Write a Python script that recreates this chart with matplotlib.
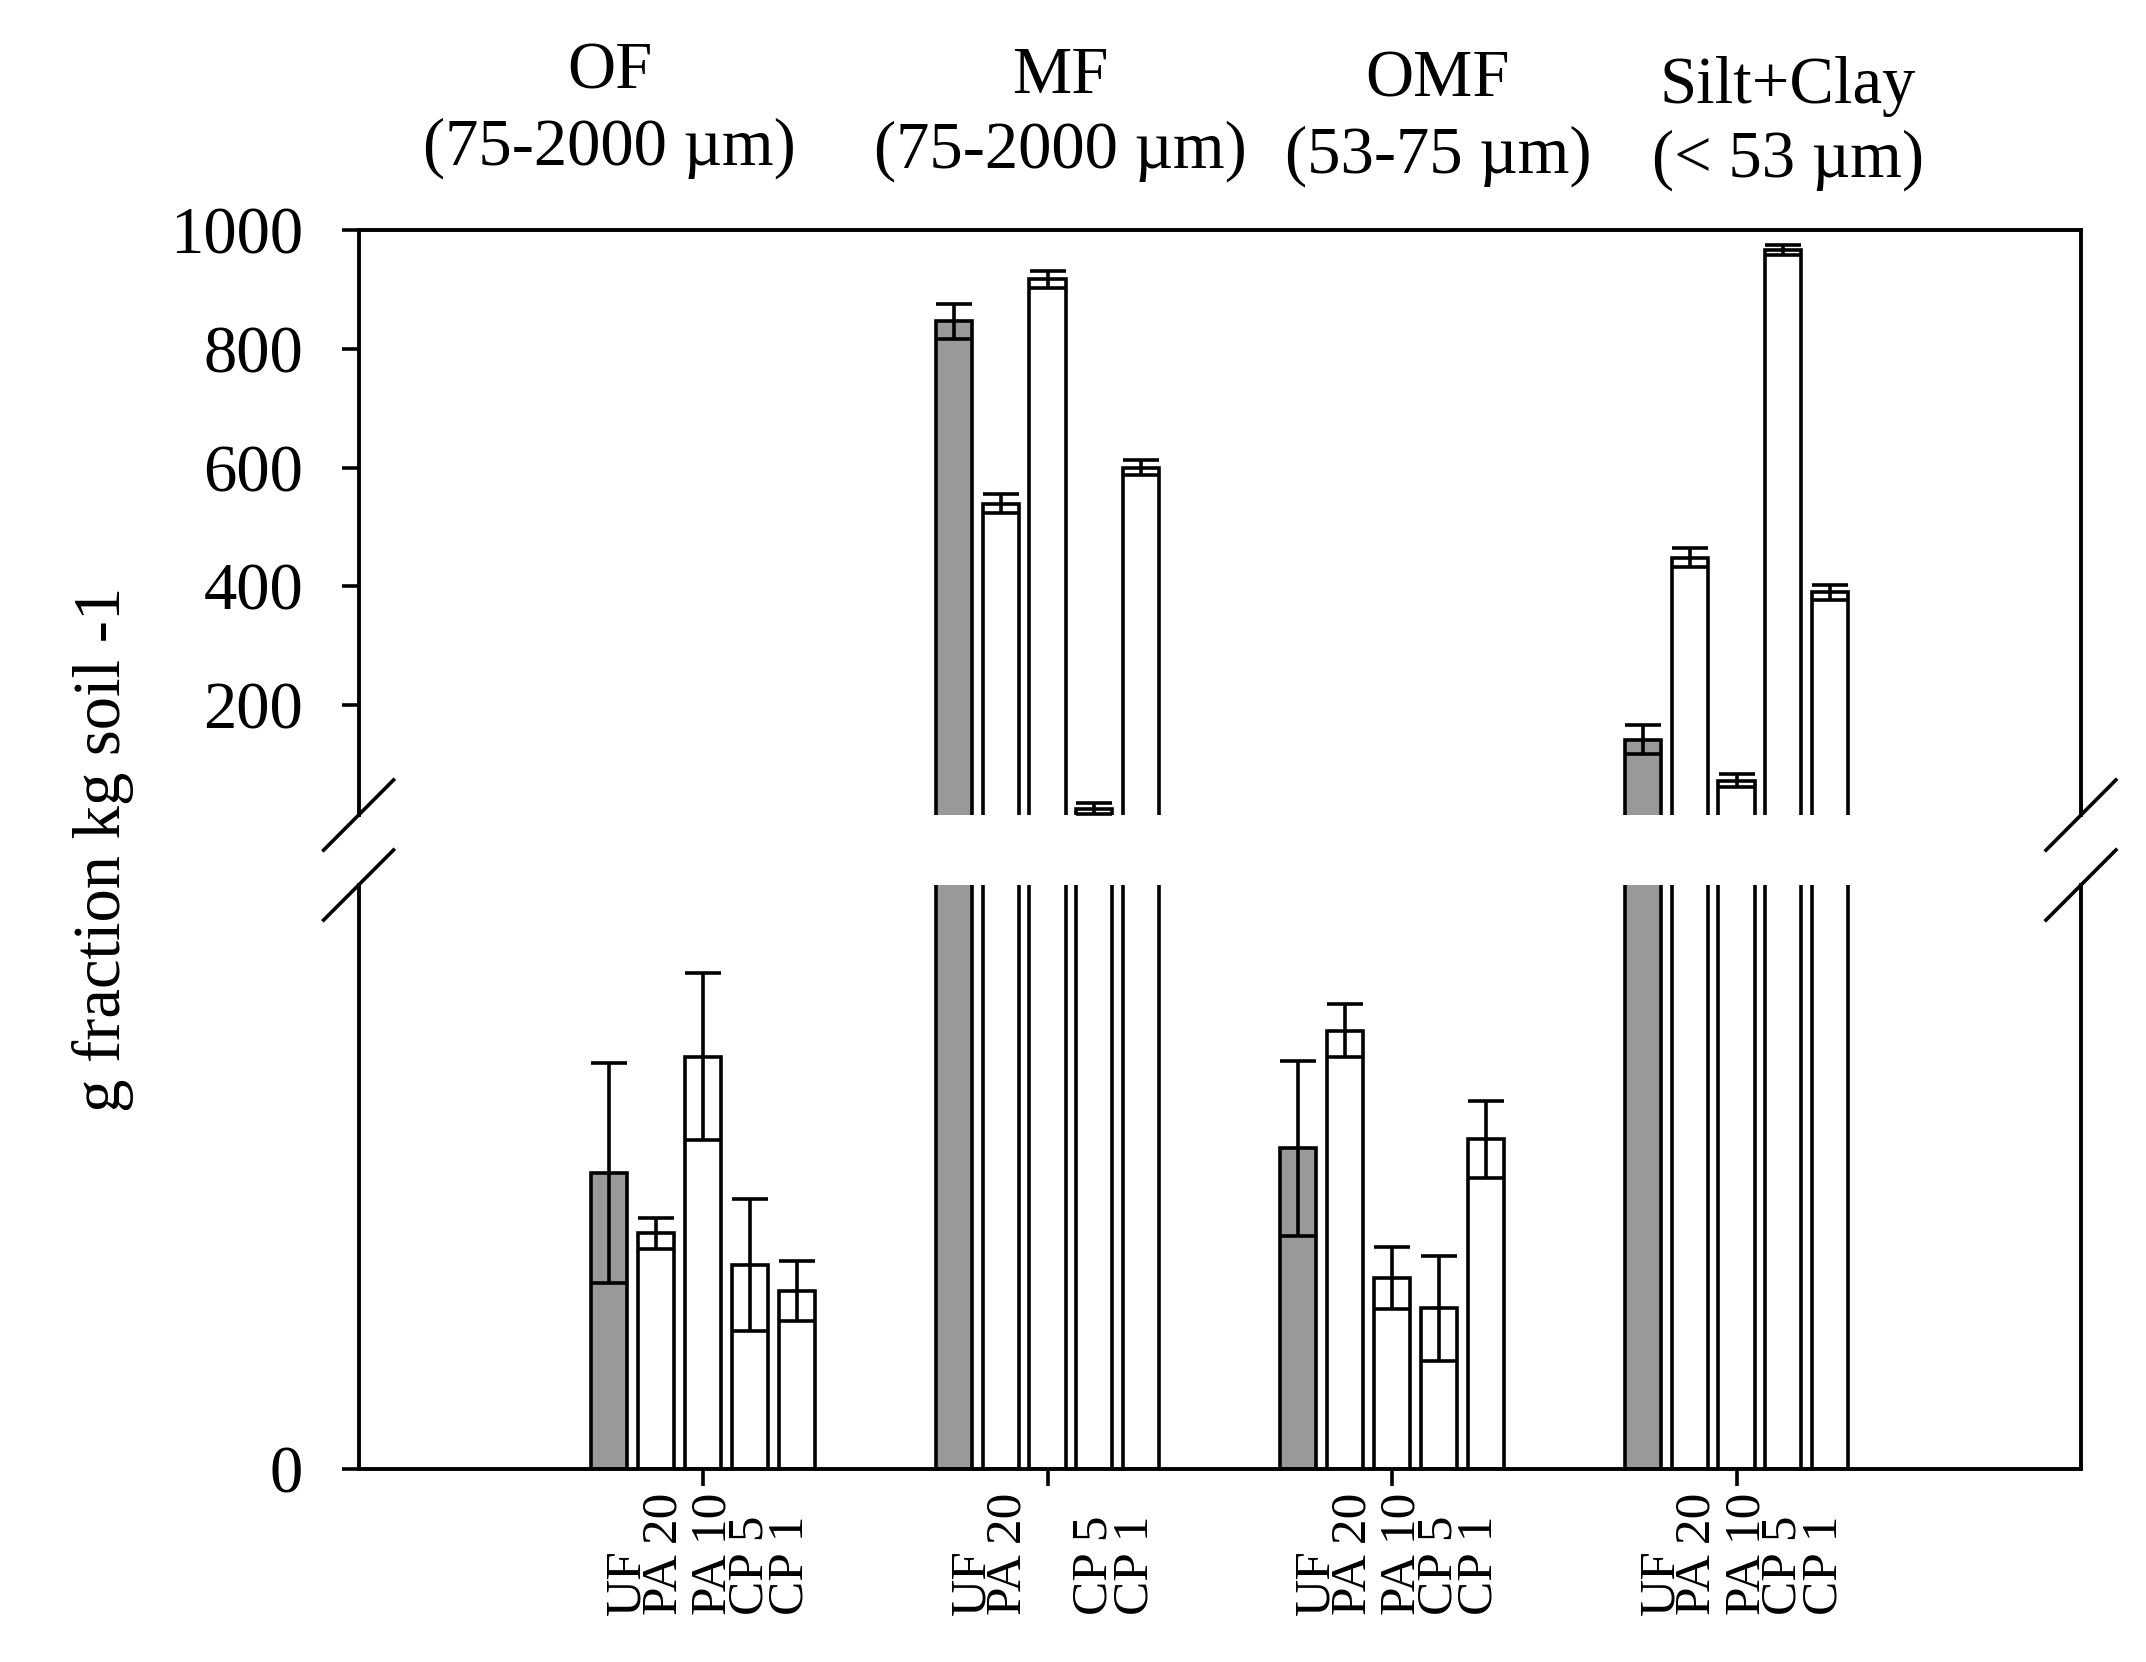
import numpy as np
import matplotlib.pyplot as plt
from matplotlib import transforms

plt.rcParams['font.family'] = ['Liberation Serif', 'DejaVu Serif']

fractions = ['OF', 'MF', 'OMF', 'Silt+Clay']
size_ranges = ['(75-2000 µm)', '(75-2000 µm)', '(53-75 µm)', '(< 53 µm)']
treatments = ['UF', 'PA 20', 'PA 10', 'CP 5', 'CP 1']

# one row per fraction, one column per treatment
# (OF and OMF only show in the lower, unlabelled part of the broken axis)
means = np.array([
    [10.13, 8.07, 14.12, 6.99, 6.11],
    [846, 539, 917, 26, 600],
    [10.98, 15.01, 6.55, 5.50, 11.29],
    [142, 448, 73, 966, 390],
])
errors = np.array([
    [3.77, 0.52, 2.86, 2.25, 1.03],
    [29, 16, 14, 9, 13],
    [2.99, 0.91, 1.06, 1.79, 1.32],
    [25, 16, 11, 8, 13],
])
# the MF group has no "PA 10" label in the original
group_labels = [treatments,
                ['UF', 'PA 20', '', 'CP 5', 'CP 1'],
                treatments,
                treatments]

colors = ['#999999', 'white', 'white', 'white', 'white']
bar_step = 0.136
bar_w = 0.105
label_shift = [-0.22, -0.114, 0.03, 0.137, 0.254]

hi_lim = (15, 1000)
lo_lim = (0, 20)

fig = plt.figure(figsize=(21.46, 16.62), dpi=100)
ax_hi = fig.add_axes([0.1671, 0.5096, 0.8026, 0.352])
ax_lo = fig.add_axes([0.1671, 0.1161, 0.8026, 0.3514])

x = np.arange(len(fractions))
# (axes, limits, smallest value drawn in that part)
parts = ((ax_hi, hi_lim, lo_lim[1]), (ax_lo, lo_lim, 0))
for ax, (lo, hi), floor in parts:
    for i, t in enumerate(treatments):
        pos = x + (i - 2) * bar_step
        show = means[:, i] > floor
        ax.bar(pos[show], means[show, i], width=bar_w, color=colors[i],
               edgecolor='black', linewidth=2.6, zorder=2)
        # error bars only where the bar top lies inside this part
        top_in = show & (means[:, i] < hi)
        ax.errorbar(pos[top_in], means[top_in, i], yerr=errors[top_in, i],
                    fmt='none', ecolor='black', elinewidth=2.6, capsize=13,
                    capthick=2.6, zorder=3)
    ax.set_xlim(-1, 4)
    ax.set_ylim(lo, hi)
    for s in ax.spines.values():
        s.set_linewidth(2.8)
    ax.tick_params(axis='y', direction='out', length=12, width=2.6,
                   labelsize=48, pad=28, right=False)

ax_hi.set_yticks([200, 400, 600, 800, 1000])
ax_hi.spines['bottom'].set_visible(False)
ax_hi.set_xticks([])

ax_lo.set_yticks([0])
ax_lo.spines['top'].set_visible(False)
ax_lo.set_xticks(x)
ax_lo.set_xticklabels([])
ax_lo.tick_params(axis='x', direction='out', length=12, width=2.6)

# break marks on both side spines
d = 0.0203
dy = 0.06
for xs in (0, 1):
    ax_hi.plot([xs - d, xs + d], [-dy, dy], transform=ax_hi.transAxes,
               color='black', lw=2.6, clip_on=False)
    ax_lo.plot([xs - d, xs + d], [1 - dy, 1 + dy], transform=ax_lo.transAxes,
               color='black', lw=2.6, clip_on=False)

# rotated treatment labels under each group
trans = transforms.blended_transform_factory(ax_lo.transData, fig.transFigure)
for g, labels in enumerate(group_labels):
    for j, lab in enumerate(labels):
        if lab:
            fig.text(x[g] + label_shift[j], 0.0283, lab, transform=trans,
                     rotation=90, ha='center', va='bottom', fontsize=37)

# fraction names above the plot
title_x = [0.284, 0.494, 0.670, 0.833]
title_y1 = [0.947, 0.944, 0.942, 0.938]
title_y2 = [0.901, 0.899, 0.896, 0.894]
for k in range(len(fractions)):
    fig.text(title_x[k], title_y1[k], fractions[k], ha='center',
             va='baseline', fontsize=48)
    fig.text(title_x[k], title_y2[k], size_ranges[k], ha='center',
             va='baseline', fontsize=48)

fig.text(0.048, 0.489, 'g fraction kg soil -1', rotation=90,
         ha='center', va='center', fontsize=48)

fig.savefig('out.png', dpi=100)
